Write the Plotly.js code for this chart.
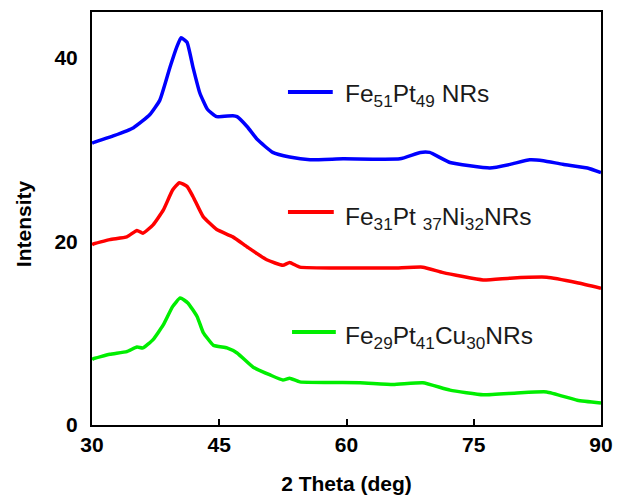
<!DOCTYPE html>
<html>
<head>
<meta charset="utf-8">
<script src="https://cdn.plot.ly/plotly-3.0.1.min.js"></script>
<style>html,body{margin:0;padding:0;background:#fff}#chart{width:619px;height:499px}</style>
</head>
<body>
<div id="chart"></div>
<script>
// Fe51Pt49 NRs (blue)
var xBlue = [30, 30.1, 32.5, 34.9, 36.8, 38.0, 39.2, 40.0, 40.5, 41.2, 41.9, 42.7, 43.6, 44.7, 46.6, 47.1, 48.3, 49.5, 51.3, 53.3, 55.7, 59.6, 66.3, 68.7, 69.8, 72.2, 76.9, 79.3, 81.6, 83.2, 85.5, 88.4, 90];
var yBlue = [30.7, 30.75, 31.5, 32.4, 33.8, 35.4, 39.0, 41.2, 42.2, 41.7, 39.0, 36.2, 34.4, 33.6, 33.7, 33.6, 32.5, 31.1, 29.7, 29.2, 28.9, 29.0, 29.0, 29.7, 29.7, 28.6, 28.0, 28.4, 28.9, 28.8, 28.4, 28.0, 27.5];
// Fe31Pt37Ni32 NRs (red)
var xRed = [30, 30.1, 32.1, 34.1, 35.3, 36.0, 37.2, 38.4, 39.5, 40.3, 41.2, 41.9, 43.1, 44.7, 46.6, 48.3, 50.6, 52.5, 53.3, 54.5, 59.6, 65.5, 69.0, 71.4, 76.1, 79.3, 83.6, 87.2, 90];
var yRed = [19.6, 19.7, 20.2, 20.5, 21.2, 20.9, 21.8, 23.4, 25.6, 26.4, 26.0, 24.9, 22.7, 21.3, 20.5, 19.4, 18.0, 17.4, 17.7, 17.2, 17.1, 17.1, 17.2, 16.6, 15.8, 16.0, 16.1, 15.5, 14.9];
// Fe29Pt41Cu30 NRs (green)
var xGreen = [30, 30.1, 32.1, 34.1, 35.3, 36.0, 37.2, 38.4, 39.5, 40.4, 41.3, 42.4, 43.1, 44.3, 45.9, 47.1, 49.0, 51.0, 52.5, 53.3, 54.5, 61.6, 65.5, 69.0, 72.2, 76.1, 80.1, 83.6, 87.2, 90];
var yGreen = [7.1, 7.2, 7.7, 8.0, 8.5, 8.4, 9.3, 10.9, 12.9, 13.85, 13.3, 11.8, 10.1, 8.7, 8.4, 7.85, 6.3, 5.45, 4.9, 5.1, 4.7, 4.6, 4.4, 4.6, 3.8, 3.3, 3.5, 3.6, 2.7, 2.4];

var seriesNames = ["Fe<sub>51</sub>Pt<sub>49</sub> NRs", "Fe<sub>31</sub>Pt <sub>37</sub>Ni<sub>32</sub>NRs", "Fe<sub>29</sub>Pt<sub>41</sub>Cu<sub>30</sub>NRs"];
var seriesColors = ["#0000ff", "#ff0000", "#00ee00"];
var xTicks = [30, 45, 60, 75, 90];
var yTicks = [0, 20, 40];

var FONT = "Arial, 'Liberation Sans', sans-serif";
var xs = [xBlue, xRed, xGreen], ys = [yBlue, yRed, yGreen];
var traces = xs.map(function(x, i){
  return {x: x, y: ys[i], type: 'scatter', mode: 'lines', name: seriesNames[i],
    line: {color: seriesColors[i], width: 3.5, shape: 'spline', smoothing: 0.4}, showlegend: false};
});

// manual legend (lines + labels) positioned in paper coordinates
var legY = [0.806, 0.516, 0.225];
var legX0 = [0.385, 0.385, 0.393], legX1 = [0.473, 0.475, 0.479];
var txtY = [0.797, 0.500, 0.211];
var shapes = [], annotations = [];
for (var i = 0; i < 3; i++) {
  shapes.push({type: 'line', xref: 'paper', yref: 'paper', x0: legX0[i], x1: legX1[i], y0: legY[i], y1: legY[i],
    line: {color: seriesColors[i], width: 4}});
  annotations.push({xref: 'paper', yref: 'paper', x: 0.493, y: txtY[i], xanchor: 'left', yanchor: 'middle',
    text: seriesNames[i], showarrow: false, font: {family: FONT, size: 24.5, color: '#1a1a1a'}});
}
// y-axis title placed as annotation to match reference centering
annotations.push({xref: 'paper', yref: 'paper', x: -0.133, y: 0.487, xanchor: 'center', yanchor: 'middle',
  text: '<b>Intensity</b>', textangle: -90, showarrow: false, font: {family: FONT, size: 21, color: '#000'}});

var layout = {
  width: 619, height: 499,
  margin: {l: 92, r: 18, t: 12, b: 74},
  paper_bgcolor: '#fff', plot_bgcolor: '#fff',
  font: {family: FONT, color: '#000'},
  xaxis: {range: [30, 90], tickvals: xTicks, ticktext: xTicks.map(String), ticks: 'inside', ticklen: 6, tickwidth: 2,
    tickcolor: '#000', showline: true, mirror: true, linewidth: 2, linecolor: '#000', showgrid: false, zeroline: false,
    tickfont: {family: FONT, size: 21, color: '#000', weight: 'bold'},
    title: {text: '<b>2 Theta (deg)</b>', font: {family: FONT, size: 21, color: '#000'}, standoff: 21}},
  yaxis: {range: [0, 45], tickvals: yTicks, ticktext: yTicks.map(String), ticks: '', ticklabelstandoff: 8,
    showline: true, mirror: true, linewidth: 2, linecolor: '#000', showgrid: false, zeroline: false,
    tickfont: {family: FONT, size: 21, color: '#000', weight: 'bold'}},
  shapes: shapes,
  annotations: annotations
};
Plotly.newPlot('chart', traces, layout, {displayModeBar: false, staticPlot: true});
</script>
</body>
</html>
